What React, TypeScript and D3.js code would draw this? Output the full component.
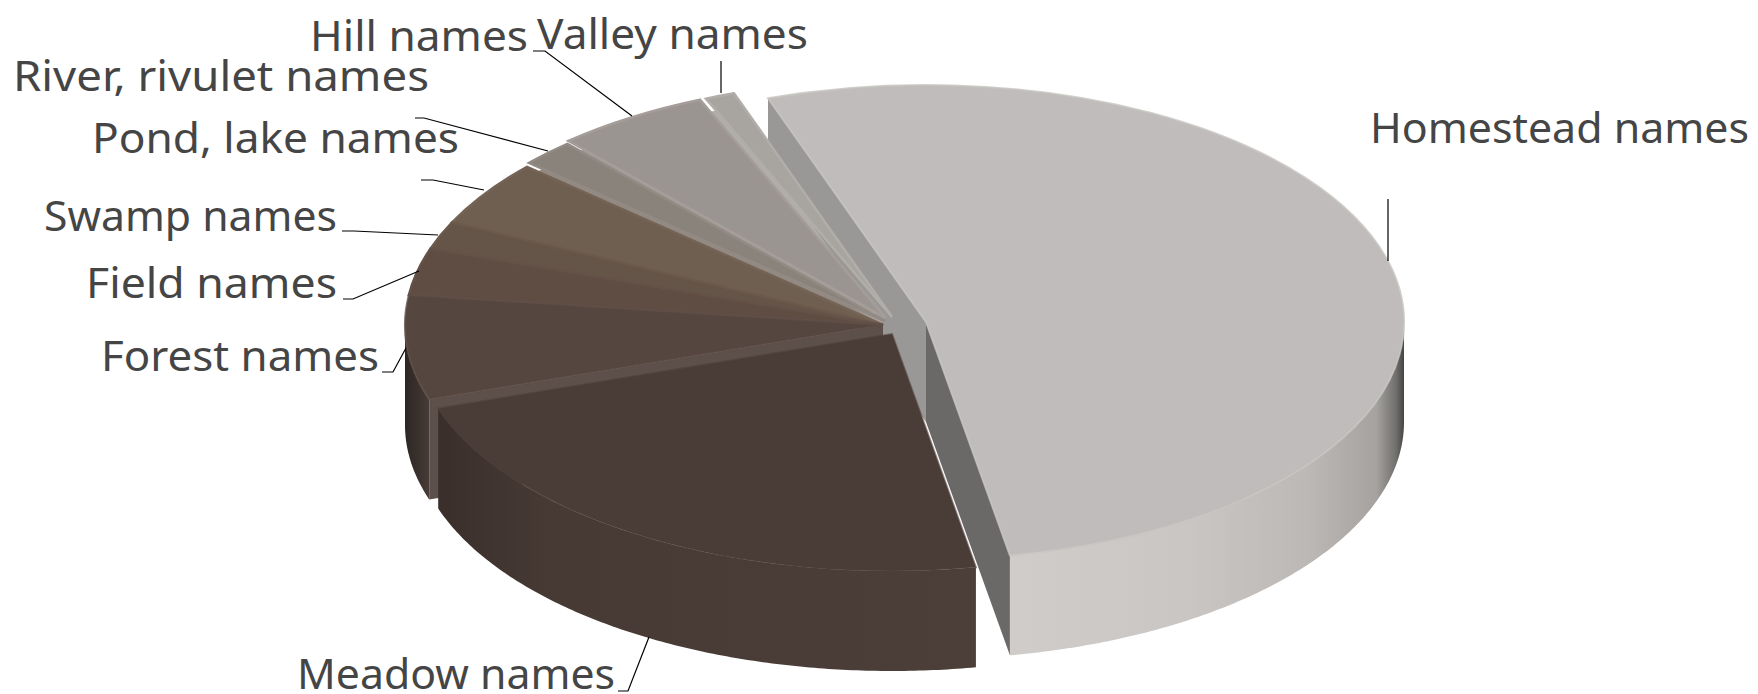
import React, { useEffect, useRef } from 'react';
import * as d3 from 'd3';

const WIDTH = 1758;
const HEIGHT = 694;

// clockwise from the cut at the back of the pie
const categories = [
  'Homestead names',
  'Meadow names',
  'Forest names',
  'Field names',
  'Swamp names',
  'Pond, lake names',
  'River, rivulet names',
  'Hill names',
  'Valley names',
];
const shares = [52.5, 22.7, 7.1, 3.2, 1.9, 4.5, 1.8, 5.2, 1.0];
const topColors = ['#bfbcbb', '#4a3c36', '#55463f', '#5f4d43', '#655448', '#6f5f51', '#8a837c', '#9b9591', '#a8a5a1'];

// how far each slice was pulled out of the pie
const offsets: [number, number][] = [
  [43, -3], [9, 9], [0, 0], [0, 0], [0, 0], [0, 0], [2, -4], [3, -7], [9, -8],
];

const labelBoxes: { x: number; base: number; w: number }[] = [
  { x: 1370, base: 143, w: 379 },
  { x: 297, base: 689, w: 318 },
  { x: 101, base: 371, w: 278 },
  { x: 86, base: 298, w: 251 },
  { x: 44, base: 231, w: 293 },
  { x: 92, base: 153, w: 367 },
  { x: 13, base: 91, w: 416 },
  { x: 310, base: 51, w: 218 },
  { x: 537, base: 49, w: 271 },
];

const leaders: [number, number][][] = [
  [[1388, 199], [1388, 261]],
  [[618, 691], [628, 691], [649, 637]],
  [[382, 372], [393, 372], [406, 348]],
  [[343, 299], [353, 299], [419, 271]],
  [[342, 231], [354, 231], [438, 235]],
  [[421, 180], [433, 180], [484, 190]],
  [[415, 118], [424, 118], [548, 151]],
  [[533, 51], [545, 51], [632, 116]],
  [[721, 61], [721, 93]],
];

const wallGradients: { id: string; x1: number; x2: number; stops: [number, string][] }[] = [
  {
    id: 'wall-homestead', x1: 1010, x2: 1404,
    stops: [[0, '#cfccc9'], [0.45, '#c9c6c3'], [0.76, '#bbb8b5'], [0.93, '#a5a29f'], [0.98, '#706f6d'], [1, '#444444']],
  },
  {
    id: 'wall-meadow', x1: 441, x2: 977,
    stops: [[0, '#3a2f2b'], [0.2, '#473a35'], [1, '#4c3e39']],
  },
  {
    id: 'wall-forest', x1: 404, x2: 432,
    stops: [[0, '#2b2622'], [0.6, '#3d332f'], [1, '#4a3f3a']],
  },
];

const App = () => {
  const chartRef = useRef<SVGSVGElement>(null);

  useEffect(() => {
    const svg = d3.select(chartRef.current);
    svg.selectAll('*').remove();

    const cx = 883;
    const cy = 325;
    const rx = 478;
    const ry = 237;
    const depth = 100;

    const defs = svg.append('defs');
    wallGradients.forEach((g) => {
      const lg = defs
        .append('linearGradient')
        .attr('id', g.id)
        .attr('gradientUnits', 'userSpaceOnUse')
        .attr('x1', g.x1)
        .attr('x2', g.x2)
        .attr('y1', 0)
        .attr('y2', 0);
      g.stops.forEach(([o, c]) => lg.append('stop').attr('offset', o).attr('stop-color', c));
    });

    const start = (-19.3 * Math.PI) / 180;
    const pie = d3
      .pie<number>()
      .sort(null)
      .value((d) => d)
      .startAngle(start)
      .endAngle(start + Math.PI * 2);
    const slices = pie(shares);

    const arc = d3.arc<d3.PieArcDatum<number>>().innerRadius(0).outerRadius(rx);
    const underArc = d3.arc<d3.PieArcDatum<number>>().innerRadius(0).outerRadius(rx * 0.97);

    const px = (i: number, a: number) => cx + offsets[i][0] + rx * Math.sin(a);
    const py = (i: number, a: number) => cy + offsets[i][1] - ry * Math.cos(a);

    const wallArea = (i: number) =>
      d3
        .area<number>()
        .x((a) => px(i, a))
        .y0((a) => py(i, a))
        .y1((a) => py(i, a) + depth);

    const drawOuterWall = (i: number, from: number, to: number, fill: string) => {
      const steps = d3.range(from, to, 0.01).concat(to);
      svg.append('path').attr('d', wallArea(i)(steps)).attr('fill', fill);
    };

    // flat cut face, hanging from the edge centre -> rim
    const drawCutWall = (i: number, a: number, fill: string) => {
      const ox = cx + offsets[i][0];
      const oy = cy + offsets[i][1];
      const pts: [number, number][] = [
        [ox, oy],
        [px(i, a), py(i, a)],
        [px(i, a), py(i, a) + depth],
        [ox, oy + depth],
      ];
      svg.append('path').attr('d', d3.line()(pts) + 'Z').attr('fill', fill);
    };

    const drawTop = (i: number, edge: string, edgeOpacity: number, edgeWidth = 2) => {
      svg
        .append('path')
        .attr('transform', `translate(${cx + offsets[i][0]},${cy + offsets[i][1]}) scale(1,${ry / rx})`)
        .attr('d', arc(slices[i]))
        .attr('fill', topColors[i])
        .attr('stroke', edge)
        .attr('stroke-opacity', edgeOpacity)
        .attr('stroke-width', edgeWidth)
        .attr('vector-effect', 'non-scaling-stroke');
    };

    // Homestead goes first, everything else sits over its cut faces
    drawCutWall(0, slices[0].startAngle, '#9a9896');
    drawCutWall(0, slices[0].endAngle, '#6b6968');
    drawOuterWall(0, Math.PI / 2, slices[0].endAngle, 'url(#wall-homestead)');
    drawTop(0, '#c6c4c1', 0.8);

    // the slightly pulled back slices leave slivers between them, fill those
    [8, 7, 6].forEach((i) => {
      svg
        .append('path')
        .attr('transform', `translate(${cx},${cy}) scale(1,${ry / rx})`)
        .attr('d', underArc(slices[i]))
        .attr('fill', d3.color(topColors[i])!.brighter(0.15).formatHex());
    });

    // back slices, from the far side round to the left
    [8, 7, 6, 5, 4, 3].forEach((i) => {
      drawTop(i, d3.color(topColors[i])!.brighter(0.15).formatHex(), 1, 2.5);
    });

    drawOuterWall(2, slices[2].startAngle, (Math.PI * 3) / 2, 'url(#wall-forest)');
    drawCutWall(2, slices[2].startAngle, '#5d4f4a');
    drawTop(2, '#5f4f48', 0.8);

    drawOuterWall(1, slices[1].startAngle, slices[1].endAngle, 'url(#wall-meadow)');
    drawTop(1, '#4f403b', 0.6);

    const leaderLine = d3.line();
    leaders.forEach((pts) => {
      svg
        .append('path')
        .attr('d', leaderLine(pts))
        .attr('fill', 'none')
        .attr('stroke', '#000000')
        .attr('stroke-width', 1.2);
    });

    categories.forEach((name, i) => {
      svg
        .append('text')
        .attr('x', labelBoxes[i].x)
        .attr('y', labelBoxes[i].base)
        .attr('textLength', labelBoxes[i].w)
        .attr('lengthAdjust', 'spacingAndGlyphs')
        .attr('font-family', '"Noto Sans", sans-serif')
        .attr('font-size', 41)
        .attr('fill', '#454545')
        .text(name);
    });
  }, []);

  return (
    <svg
      ref={chartRef}
      width={WIDTH}
      height={HEIGHT}
      style={{ position: 'absolute', left: 0, top: 0, background: '#ffffff' }}
    ></svg>
  );
};

export default App;
